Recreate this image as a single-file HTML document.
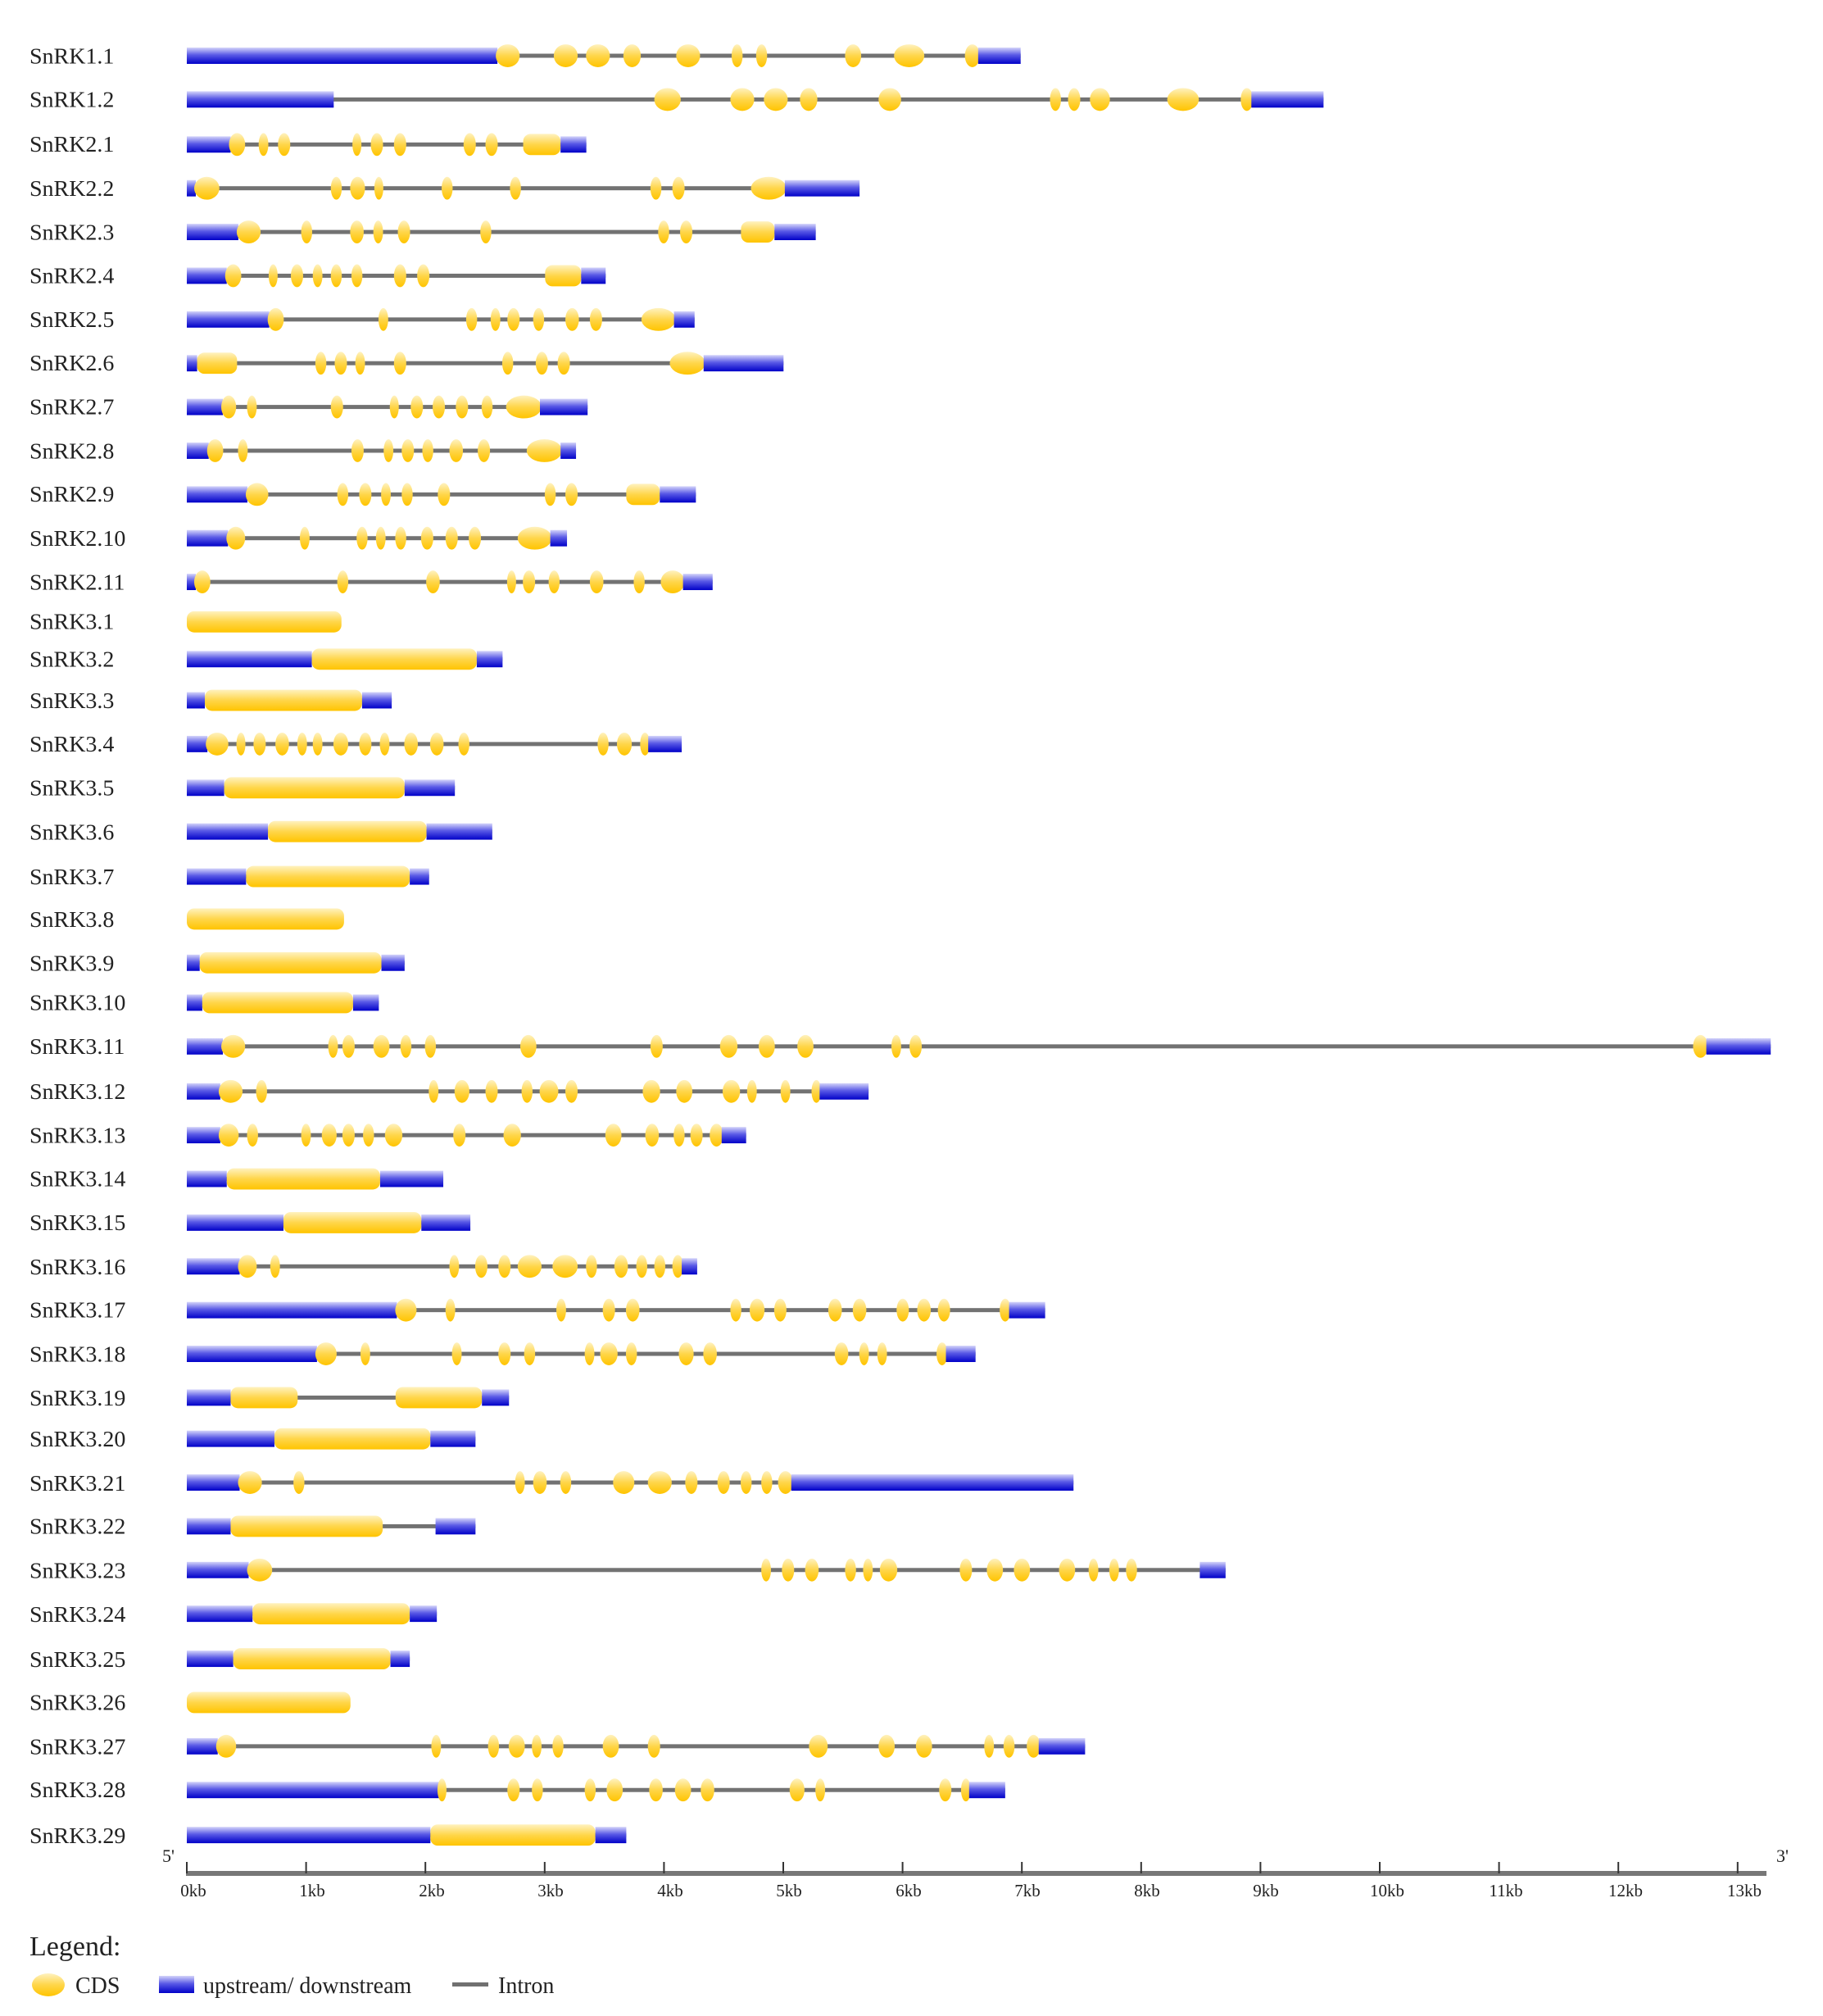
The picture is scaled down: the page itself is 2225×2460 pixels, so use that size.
<!DOCTYPE html>
<html><head><meta charset="utf-8"><style>
html,body{margin:0;padding:0;background:#fff;}
svg{display:block;}
text{font-family:"Liberation Serif",serif;fill:#222;}
</style></head><body>
<svg id="s" width="2225" height="2460" xmlns="http://www.w3.org/2000/svg">
<defs>
<linearGradient id="gb" x1="0" y1="0" x2="0" y2="1"><stop offset="0" stop-color="#d4d4fa"/><stop offset="0.45" stop-color="#5a5ae6"/><stop offset="1" stop-color="#0000c8"/></linearGradient>
<linearGradient id="gy" x1="0" y1="0" x2="0" y2="1"><stop offset="0" stop-color="#fff2c0"/><stop offset="0.5" stop-color="#ffd64a"/><stop offset="1" stop-color="#ffc400"/></linearGradient>
</defs>
<g id="main" transform="scale(1,0.9955)">
<g font-size="28">
<text x="36" y="78">SnRK1.1</text><text x="36" y="131">SnRK1.2</text><text x="36" y="186">SnRK2.1</text><text x="36" y="240">SnRK2.2</text><text x="36" y="294">SnRK2.3</text><text x="36" y="347">SnRK2.4</text><text x="36" y="401">SnRK2.5</text><text x="36" y="454">SnRK2.6</text><text x="36" y="508">SnRK2.7</text><text x="36" y="562">SnRK2.8</text><text x="36" y="615">SnRK2.9</text><text x="36" y="669">SnRK2.10</text><text x="36" y="723">SnRK2.11</text><text x="36" y="771">SnRK3.1</text><text x="36" y="817">SnRK3.2</text><text x="36" y="868">SnRK3.3</text><text x="36" y="921">SnRK3.4</text><text x="36" y="975">SnRK3.5</text><text x="36" y="1029">SnRK3.6</text><text x="36" y="1084">SnRK3.7</text><text x="36" y="1136">SnRK3.8</text><text x="36" y="1190">SnRK3.9</text><text x="36" y="1238">SnRK3.10</text><text x="36" y="1292">SnRK3.11</text><text x="36" y="1347">SnRK3.12</text><text x="36" y="1401">SnRK3.13</text><text x="36" y="1454">SnRK3.14</text><text x="36" y="1508">SnRK3.15</text><text x="36" y="1562">SnRK3.16</text><text x="36" y="1615">SnRK3.17</text><text x="36" y="1669">SnRK3.18</text><text x="36" y="1723">SnRK3.19</text><text x="36" y="1773">SnRK3.20</text><text x="36" y="1827">SnRK3.21</text><text x="36" y="1880">SnRK3.22</text><text x="36" y="1934">SnRK3.23</text><text x="36" y="1988">SnRK3.24</text><text x="36" y="2043">SnRK3.25</text><text x="36" y="2096">SnRK3.26</text><text x="36" y="2150">SnRK3.27</text><text x="36" y="2203">SnRK3.28</text><text x="36" y="2259">SnRK3.29</text>
</g>
</g>
<text x="198" y="2272" font-size="22">5'</text>
<text x="2168" y="2272" font-size="22">3'</text>
<g font-size="21" text-anchor="middle">
<text x="236" y="2314">0kb</text><text x="381" y="2314">1kb</text><text x="527" y="2314">2kb</text><text x="672" y="2314">3kb</text><text x="818" y="2314">4kb</text><text x="963" y="2314">5kb</text><text x="1109" y="2314">6kb</text><text x="1254" y="2314">7kb</text><text x="1400" y="2314">8kb</text><text x="1545" y="2314">9kb</text><text x="1693" y="2314">10kb</text><text x="1838" y="2314">11kb</text><text x="1984" y="2314">12kb</text><text x="2129" y="2314">13kb</text>
</g>
<text x="36" y="2386" font-size="34">Legend:</text>
<ellipse cx="59" cy="2422" rx="20" ry="14" fill="url(#gy)"/>
<text x="92" y="2432" font-size="28">CDS</text>
<rect x="194" y="2411" width="43" height="21" fill="url(#gb)"/>
<text x="248" y="2432" font-size="28">upstream/ downstream</text>
<rect x="552" y="2419" width="44" height="5" fill="#707070"/>
<text x="608" y="2432" font-size="28">Intron</text>
</svg>
<script>
var D=[
[43,"U146-387 C387-403 C432-448 C457-473 C486-497 C527-543 C570-576 C589-595 C658-668 C696-717 C751-760 U760-793"],
[77,"U146-260 C510-528 C569-585 C595-611 C623-634 C684-699 C817-823 C831-838 C848-861 C908-930 C965-972 U972-1028"],
[112,"U146-180 C180-190 C203-208 C218-225 C276-280 C290-297 C308-315 C362-369 C379-386 C407-436 U436-456"],
[146,"U146-153 C153-170 C259-265 C274-283 C293-297 C345-351 C398-404 C507-513 C524-531 C585-610 U610-668"],
[180,"U146-186 C186-202 C236-242 C274-282 C292-297 C311-318 C375-381 C513-519 C530-537 C576-602 U602-634"],
[214,"U146-177 C177-187 C211-215 C228-235 C245-250 C259-265 C275-281 C308-315 C326-333 C424-452 U452-471"],
[248,"U146-210 C210-220 C296-301 C364-370 C383-388 C396-403 C416-422 C441-449 C460-467 C500-524 U524-540"],
[282,"U146-154 C154-185 C247-253 C262-269 C278-283 C308-315 C392-398 C418-425 C435-442 C522-547 U547-609"],
[316,"U146-174 C174-183 C194-199 C259-266 C305-309 C321-328 C338-345 C356-363 C376-382 C395-420 U420-457"],
[350,"U146-163 C163-173 C187-192 C275-282 C300-305 C314-321 C330-336 C351-359 C373-380 C411-436 U436-448"],
[384,"U146-193 C193-208 C264-270 C281-288 C298-303 C314-320 C342-349 C425-431 C441-448 C487-513 U513-541"],
[418,"U146-178 C178-190 C235-240 C279-285 C294-299 C309-315 C329-336 C348-355 C366-373 C404-428 U428-441"],
[452,"U146-153 C153-163 C264-270 C333-341 C396-400 C408-415 C428-434 C460-468 C494-500 C515-531 U531-554"],
[483,"C146-266"],
[512,"U146-243 C243-371 U371-391"],
[544,"U146-160 C160-282 U282-305"],
[578,"U146-162 C162-177 C186-190 C199-206 C216-224 C233-238 C245-250 C261-270 C281-288 C297-302 C316-324 C336-344 C358-364 C466-472 C481-490 C499-504 U504-530"],
[612,"U146-175 C175-315 U315-354"],
[646,"U146-209 C209-332 U332-383"],
[681,"U146-192 C192-319 U319-334"],
[714,"C146-268"],
[748,"U146-156 C156-297 U297-315"],
[779,"U146-158 C158-275 U275-295"],
[813,"U146-174 C174-190 C257-262 C268-275 C292-302 C313-319 C332-338 C406-416 C507-514 C561-572 C591-601 C621-631 C694-699 C708-715 C1316-1325 U1325-1375"],
[848,"U146-172 C172-188 C201-207 C335-340 C355-364 C379-386 C407-413 C421-433 C441-448 C501-512 C527-537 C563-574 C582-587 C608-613 C632-637 U637-675"],
[882,"U146-172 C172-185 C194-200 C236-241 C252-261 C268-275 C284-290 C301-312 C354-361 C393-404 C472-482 C503-511 C525-531 C538-545 C553-561 U561-580"],
[916,"U146-177 C177-296 U296-345"],
[950,"U146-221 C221-328 U328-366"],
[984,"U146-187 C187-199 C212-217 C351-356 C371-378 C389-396 C404-420 C431-448 C457-463 C479-487 C496-502 C510-516 C524-530 U530-542"],
[1018,"U146-309 C309-323 C348-353 C434-439 C470-477 C488-496 C569-575 C584-593 C603-610 C645-653 C664-672 C698-705 C714-722 C730-737 C778-784 U784-812"],
[1052,"U146-247 C247-261 C282-287 C353-358 C389-396 C409-415 C456-461 C468-479 C488-494 C529-538 C548-556 C650-658 C669-674 C683-688 C729-735 U735-758"],
[1086,"U146-180 C180-232 C308-375 U375-396"],
[1118,"U146-214 C214-335 U335-370"],
[1152,"U146-187 C187-203 C230-236 C402-407 C416-424 C437-443 C478-492 C505-521 C534-541 C559-566 C577-583 C593-599 C606-615 U615-834"],
[1186,"U146-180 C180-298 U339-370"],
[1220,"U146-194 C194-211 C593-598 C609-616 C627-635 C658-664 C672-677 C685-696 C747-754 C768-778 C789-799 C824-834 C847-852 C863-868 C876-882 U932-952"],
[1254,"U146-197 C197-319 U319-340"],
[1289,"U146-182 C182-304 U304-319"],
[1323,"C146-273"],
[1357,"U146-170 C170-183 C337-342 C381-387 C397-407 C415-420 C431-437 C470-480 C505-512 C630-642 C684-694 C713-723 C766-771 C781-787 C799-807 U807-843"],
[1391,"U146-342 C342-346 C396-403 C415-421 C456-462 C473-483 C506-514 C526-536 C546-554 C615-624 C635-640 C731-738 C748-753 U753-781"],
[1426,"U146-335 C335-463 U463-487"]
];
var NS="http://www.w3.org/2000/svg",s=document.getElementById("s"),g=document.getElementById("main");
function el(n,a,p){var e=document.createElementNS(NS,n);for(var k in a)e.setAttribute(k,a[k]);(p||g).appendChild(e);return e;}
function X(t){return 228+(t-146)*1.573;}
D.forEach(function(r){
 var y=r[0]*1.577+0.5, f=r[1].split(" ").map(function(p){var m=p.slice(1).split("-");return [p[0],+m[0],+m[1]];});
 var a=X(f[0][1]),b=X(f[f.length-1][2]);
 if(f.length>1) el("rect",{x:a,y:y-2.5,width:b-a,height:5,fill:"#727272"});
 f.forEach(function(q){
  var x1=X(q[1]),x2=X(q[2]),w=x2-x1;
  if(q[0]=="U") el("rect",{x:x1,y:y-10,width:w,height:20,fill:"url(#gb)"});
  else if(w>40) el("rect",{x:x1,y:y-13,width:w,height:26,rx:9,fill:"url(#gy)"});
  else {w=Math.max(w,7);el("ellipse",{cx:(x1+x2)/2,cy:y,rx:w/2+2,ry:14,fill:"url(#gy)"});}
 });
});
el("rect",{x:227,y:2283,width:1929,height:6,fill:"#777"},s);
for(var i=0;i<=13;i++){el("rect",{x:227+i*145.6,y:2272,width:2,height:14,fill:"#333"},s);}
</script>
</body></html>
